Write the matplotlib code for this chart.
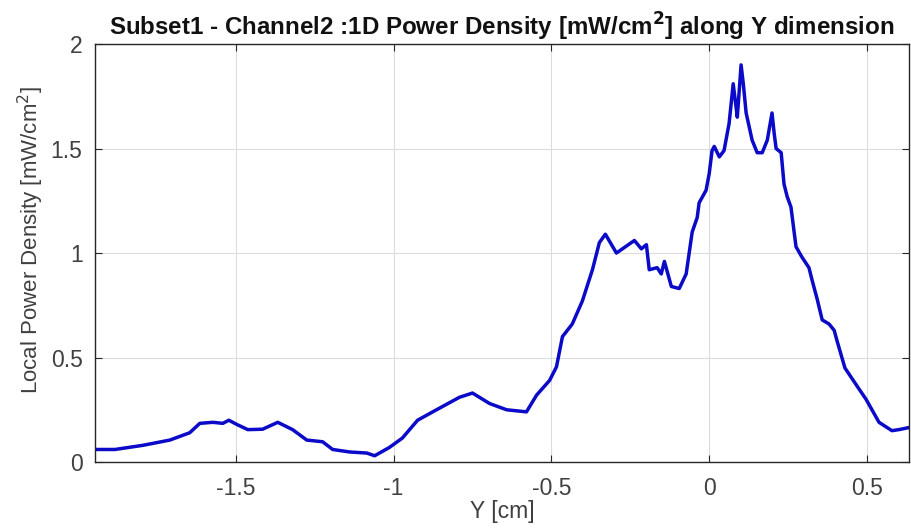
import numpy as np
import matplotlib
matplotlib.use('Agg')
import matplotlib.pyplot as plt
from matplotlib.ticker import FormatStrFormatter

plt.rcParams['font.family'] = ['Liberation Sans', 'DejaVu Sans']
plt.rcParams['axes.unicode_minus'] = False

# Y position [cm] and local power density [mW/cm^2]
y_cm = [-1.946, -1.883, -1.794, -1.709, -1.646, -1.614, -1.573, -1.541, -1.522, -1.497,
        -1.462, -1.415, -1.367, -1.320, -1.275, -1.225, -1.193, -1.139, -1.085, -1.060,
        -1.013, -0.972, -0.924, -0.864, -0.791, -0.750, -0.696, -0.642, -0.579, -0.547,
        -0.506, -0.484, -0.465, -0.434, -0.402, -0.370, -0.348, -0.329, -0.294, -0.275,
        -0.237, -0.215, -0.199, -0.190, -0.165, -0.152, -0.142, -0.120, -0.095, -0.073,
        -0.054, -0.038, -0.032, -0.010, 0.000, 0.009, 0.016, 0.032, 0.047, 0.063,
        0.076, 0.085, 0.089, 0.101, 0.108, 0.117, 0.136, 0.152, 0.168, 0.184,
        0.199, 0.206, 0.212, 0.228, 0.237, 0.247, 0.259, 0.275, 0.294, 0.316,
        0.326, 0.342, 0.358, 0.380, 0.396, 0.405, 0.430, 0.470, 0.497, 0.538,
        0.579, 0.601, 0.633]
density = [0.06, 0.06, 0.08, 0.105, 0.14, 0.185, 0.19, 0.185, 0.20, 0.18,
           0.155, 0.157, 0.19, 0.155, 0.105, 0.097, 0.06, 0.048, 0.043, 0.03,
           0.07, 0.115, 0.20, 0.25, 0.31, 0.33, 0.28, 0.25, 0.24, 0.32,
           0.39, 0.455, 0.60, 0.66, 0.77, 0.92, 1.05, 1.09, 1.00, 1.02,
           1.06, 1.02, 1.04, 0.92, 0.93, 0.90, 0.96, 0.84, 0.83, 0.90,
           1.10, 1.17, 1.24, 1.30, 1.38, 1.49, 1.51, 1.46, 1.49, 1.62,
           1.81, 1.70, 1.65, 1.90, 1.81, 1.67, 1.54, 1.48, 1.48, 1.54,
           1.67, 1.57, 1.50, 1.48, 1.33, 1.27, 1.22, 1.03, 0.98, 0.93,
           0.87, 0.78, 0.68, 0.66, 0.63, 0.58, 0.45, 0.36, 0.30, 0.19,
           0.15, 0.155, 0.165]

x_ticks = [-1.5, -1, -0.5, 0, 0.5]
y_ticks = [0, 0.5, 1, 1.5, 2]

fig = plt.figure(figsize=(9.11, 5.31), dpi=100)
ax = fig.add_axes([0.1043, 0.1299, 0.8935, 0.7872])

ax.plot(y_cm, density, color='#0a0ac8', lw=2.5)

ax.set_xlim(-1.946, 0.633)
ax.set_ylim(0, 2)
ax.set_xticks(x_ticks)
ax.set_yticks(y_ticks)
ax.xaxis.set_major_formatter(FormatStrFormatter('%g'))
ax.yaxis.set_major_formatter(FormatStrFormatter('%g'))
ax.grid(True, color='#dcdcdc', lw=0.8)
ax.set_axisbelow(True)
ax.tick_params(direction='in', top=True, right=True, length=5, width=0.8,
               colors='#262626', labelsize=16.5, labelcolor='#404040')
ax.tick_params(axis='x', pad=11)
ax.tick_params(axis='y', pad=9)
for s in ax.spines.values():
    s.set_color('#262626')
    s.set_linewidth(1.0)

ax.set_title('Subset1 - Channel2 :1D Power Density [mW/cm$^\\mathbf{2}$] along Y dimension',
             fontsize=17.4, fontweight='bold', color='#111111', pad=6)
ax.set_xlabel('Y [cm]', fontsize=16.5, color='#404040', labelpad=0)
ax.set_ylabel('Local Power Density [mW/cm$^2$]', fontsize=16, color='#404040')
ax.yaxis.set_label_coords(-0.06, 0.53)

fig.savefig('out.png', dpi=100)
